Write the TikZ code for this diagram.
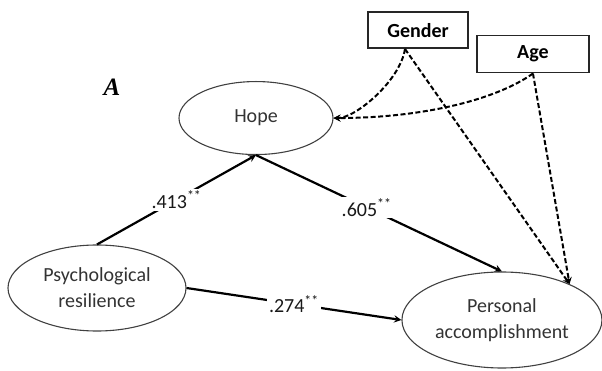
\documentclass[tikz,border=0pt]{standalone}
\usepackage{fontspec}
\setmainfont{Carlito}
\newfontfamily\panelfont{Liberation Serif}
\usetikzlibrary{shapes.geometric}

\begin{document}
\begin{tikzpicture}[>=stealth,x=1pt,y=-1pt,font=\fontsize{20}{26}\selectfont]

    % Define node styles
    \tikzstyle{latent_block} = [draw=black!75, ellipse, line width=1.1pt, inner sep=0pt, align=center, text=black!80]
    \tikzstyle{control_block} = [draw=black!85, line width=1.8pt, minimum height=36pt, inner sep=0pt, font=\fontsize{20}{26}\selectfont\bfseries, text centered]
    \tikzstyle{coef_label} = [fill=white, inner sep=2pt, text=black!90]
    \tikzstyle{path_arrow} = [->, line width=2.2pt]
    \tikzstyle{control_arrow} = [->, line width=2pt, dash pattern=on 5pt off 2.5pt]

    \useasboundingbox (0,0) rectangle (602,371);

    % Draw nodes
    \node [latent_block, minimum width=178pt, minimum height=86pt] (resilience) at (97,288) {Psychological\\ resilience};
    \node [latent_block, minimum width=154pt, minimum height=73pt, above of=resilience, xshift=159pt, yshift=141.5pt] (hope) {Hope};
    \node [latent_block, minimum width=200pt, minimum height=96pt, right of=resilience, xshift=376.5pt, yshift=-32pt] (accomplishment) {Personal\\ accomplishment};
    \node [control_block, minimum width=100pt, above of=hope, xshift=162pt, yshift=59.5pt] (gender) {Gender};
    \node [control_block, minimum width=112pt, minimum height=37pt, right of=gender, xshift=86.5pt, yshift=-24pt] (age) {Age};
    \node [left of=hope, xshift=-115.5pt, yshift=31pt] (panel) {\panelfont\fontsize{25}{28}\selectfont\bfseries\itshape A};

    % Draw arrows
    \draw [path_arrow] (resilience.north) -- node[coef_label, midway] {.413\textsuperscript{**}} (hope.south);
    \draw [path_arrow] (hope.south) -- node[coef_label, pos=0.45] {.605\textsuperscript{**}} (accomplishment.north);
    \draw [path_arrow] (resilience.east) -- node[coef_label, midway] {.274\textsuperscript{**}} (accomplishment.west);

    \draw [control_arrow] ([xshift=-13pt]gender.south) .. controls +(-5,32) and +(22,0) .. (hope.east);
    \draw [control_arrow] (age.south) .. controls +(-38,27) and +(87,0) .. (hope.east);
    \draw [control_arrow] ([xshift=-13pt]gender.south) -- (accomplishment.28);
    \draw [control_arrow] (age.south) -- (accomplishment.28);

\end{tikzpicture}
\end{document}
